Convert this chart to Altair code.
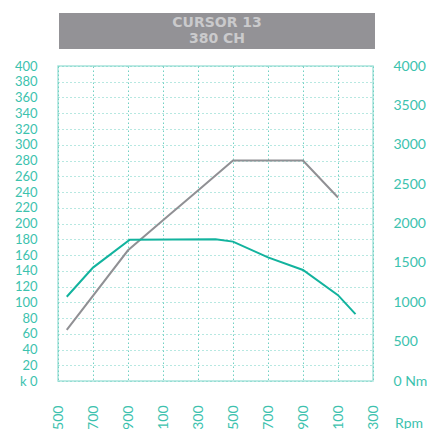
import altair as alt
import pandas as pd

# Power curve (kW, left axis)
power_rpm = [550, 900, 1100, 1300, 1500, 1900, 2100]
power_kw = [65, 166, 204, 242, 280, 280, 233]

# Torque curve (Nm, right axis)
torque_rpm = [550, 700, 910, 1400, 1500, 1700, 1900, 2100, 2200]
torque_nm = [1070, 1440, 1795, 1800, 1770, 1570, 1410, 1090, 850]

x_ticks = [500, 700, 900, 1100, 1300, 1500, 1700, 1900, 2100, 2300]
kw_ticks = list(range(0, 401, 20))
nm_ticks = list(range(0, 4001, 500))

title_lines = ["CURSOR 13", "380  CH"]

TEAL = "#12b39e"
LABEL_TEAL = "#3cc2ae"
GRAY = "#909094"
GRID = "#6fd0c2"
BORDER = "#a8e4dc"

pdf = pd.DataFrame({"rpm": power_rpm, "kw": power_kw})
tdf = pd.DataFrame({"rpm": torque_rpm, "nm": torque_nm})

xscale = alt.Scale(domain=[500, 2300], nice=False, zero=False)
xaxis = alt.Axis(values=x_ticks, title=None, labelAngle=270, labelAlign="right",
                 labelBaseline="middle", labelPadding=24, ticks=False, domain=False,
                 labelColor=LABEL_TEAL, labelFontSize=14, labelFont="Lato",
                 format="d",
                 grid=True, gridColor=GRID, gridDash=[1.5, 2.5], gridWidth=1,
                 labelOverlap=False, labelBound=False, labelFlush=False)

power = alt.Chart(pdf).mark_line(color=GRAY, strokeWidth=2).encode(
    x=alt.X("rpm:Q", scale=xscale, axis=xaxis),
    y=alt.Y("kw:Q", scale=alt.Scale(domain=[0, 400], nice=False),
            axis=alt.Axis(values=kw_ticks, title=None, orient="left", ticks=False,
                          domain=False, labelPadding=21, labelColor=LABEL_TEAL,
                          labelFontSize=13, labelFont="Lato", format="d",
                          labelExpr="datum.value == 0 ? 'k 0' : datum.label",
                          grid=True, gridColor=GRID, gridDash=[1, 3], gridWidth=1,
                          labelOverlap=False, labelFlush=False)),
)

torque = alt.Chart(tdf).mark_line(color=TEAL, strokeWidth=2).encode(
    x=alt.X("rpm:Q", scale=xscale, axis=xaxis),
    y=alt.Y("nm:Q", scale=alt.Scale(domain=[0, 4000], nice=False),
            axis=alt.Axis(values=nm_ticks, title=None, orient="right", ticks=False,
                          domain=False, labelPadding=20, labelColor=LABEL_TEAL,
                          labelFontSize=14, labelFont="Lato", grid=False, format="d",
                          labelExpr="datum.value == 0 ? '0 Nm' : datum.label",
                          labelOverlap=False, labelFlush=False)),
)

box = alt.Chart(pd.DataFrame({"a": [0]})).mark_rect(color="#939296").encode(
    x=alt.value(1), x2=alt.value(317), y=alt.value(-53), y2=alt.value(-17)
)

t1 = alt.Chart(pd.DataFrame({"t": [title_lines[0]]})).mark_text(
    color="#cacacc", font="DejaVu Sans", fontWeight="bold", fontSize=14,
    align="center", baseline="middle"
).encode(text="t:N", x=alt.value(159), y=alt.value(-43))

t2 = alt.Chart(pd.DataFrame({"t": [title_lines[1]]})).mark_text(
    color="#cacacc", font="DejaVu Sans", fontWeight="bold", fontSize=14,
    align="center", baseline="middle"
).encode(text="t:N", x=alt.value(159), y=alt.value(-27))

rpm_label = alt.Chart(pd.DataFrame({"t": ["Rpm"]})).mark_text(
    color=LABEL_TEAL, font="Lato", fontSize=14, align="left", baseline="middle"
).encode(text="t:N", x=alt.value(337), y=alt.value(358))

chart = alt.layer(power, torque, box, t1, t2, rpm_label).resolve_scale(
    y="independent"
).properties(
    width=315, height=315,
    autosize=alt.AutoSizeParams(type="none"),
    padding={"left": 50, "top": 58, "right": 54, "bottom": 48},
    background="white",
).configure_view(stroke=BORDER, strokeWidth=1.5)

chart.save("out.html", embed_options={"renderer": "svg", "actions": False})
